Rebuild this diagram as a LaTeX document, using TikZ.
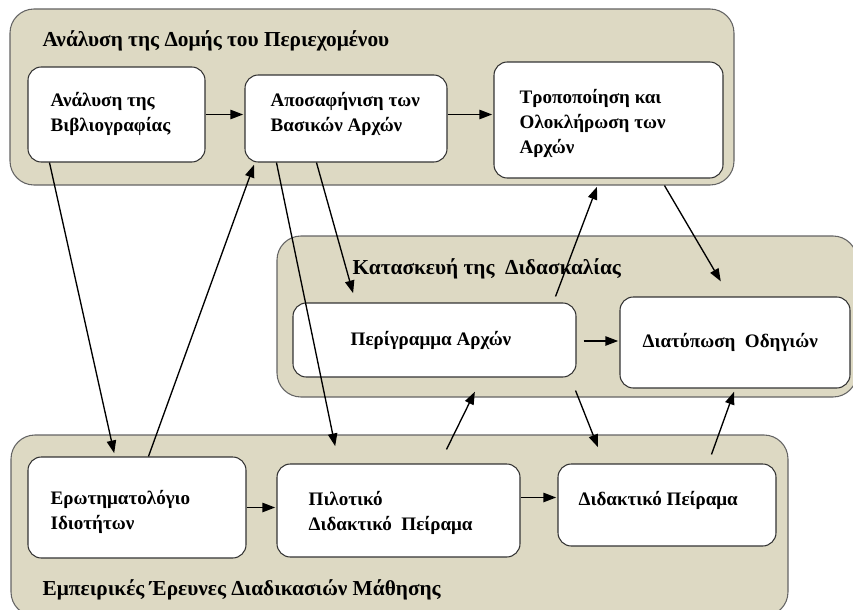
\documentclass[tikz,border=0pt]{standalone}
\usepackage{fontspec}
\setmainfont{Liberation Serif}
\usetikzlibrary{arrows.meta,calc,fit}
\definecolor{groupfill}{RGB}{221,217,195}
\definecolor{groupline}{RGB}{100,100,100}

\begin{document}
\begin{tikzpicture}[x=0.75pt,y=-0.75pt,->,>={Triangle[length=9.5pt,width=7pt]},shorten >=1pt,line width=1pt,
    grp/.style={draw=groupline,fill=groupfill,rounded corners=18pt,inner sep=0pt,line width=0.8pt},
    box/.style={draw=black!80,fill=white,rounded corners=10pt,inner sep=0pt,line width=0.8pt},
    txt/.style={anchor=base west,inner sep=0pt,align=left,font=\fontsize{16}{18.75}\selectfont\bfseries},
    boxtxt/.style={txt,font=\fontsize{14.3}{18.75}\selectfont\bfseries}]

            \clip (0,0) rectangle (853,610);

            % the three groups
            \node[grp, fit={(10,9) (734,185)}] (g1) {};
            \node[grp, fit={(277,236) (857,397)}] (g2) {};
            \node[grp, fit={(11,435) (788,616)}] (g3) {};

            \node[txt] (t1) at (42,47) {Ανάλυση της Δομής του Περιεχομένου};
            \node[txt] (t2) at (352,274) {Κατασκευή της \ Διδασκαλίας};
            \node[txt] (t3) at (42,595) {Εμπειρικές Έρευνες Διαδικασιών Μάθησης};

            % boxes
            \node[box, fit={(28,67) (205,162)}] (1) {};
            \node[box, fit={(245,75) (447,162)}] (2) {};
            \node[box, fit={(494,62) (723,178)}] (3) {};
            \node[box, fit={(293,303) (576,377)}] (4) {};
            \node[box, fit={(620,297) (850,388)}] (5) {};
            \node[box, fit={(28,457) (246,558)}] (6) {};
            \node[box, fit={(277,464) (520,557)}] (7) {};
            \node[box, fit={(558,464) (776,546)}] (8) {};

            % multi-line texts sit on their last baseline
            \node[boxtxt] (l1) at (50,132) {Ανάλυση της\\Βιβλιογραφίας};
            \node[boxtxt] (l2) at (270,132) {Αποσαφήνιση των\\Βασικών Αρχών};
            \node[boxtxt] (l3) at (519,153) {Τροποποίηση και\\Ολοκλήρωση των\\Αρχών};
            \node[boxtxt] (l4) at (350,345) {Περίγραμμα Αρχών};
            \node[boxtxt] (l5) at (642,347) {Διατύπωση \ Οδηγιών};
            \node[boxtxt] (l6) at (50,529) {Ερωτηματολόγιο\\Ιδιοτήτων};
            \node[boxtxt] (l7) at (308,530) {Πιλοτικό\\Διδακτικό \ Πείραμα};
            \node[boxtxt] (l8) at (578,505) {Διδακτικό Πείραμα};

            \path
                (1.east) edge (1.east -| 2.west)
                ($(2.east)+(0,-4)$) edge ($(2.east -| 3.west)+(0,-4)$)
                ($(4.east)+(7,1)$) edge ($(4.east -| 5.west)+(0,1)$)
                (6.east) edge (6.east -| 7.west)
                ($(7.east)+(0,-13)$) edge ($(7.east -| 8.west)+(0,-13)$)
                ($(1.south west)+(22,0)$) edge ($(6.north west)+(87,-2)$)
                ($(6.north west)+(121,0)$) edge ($(2.south west)+(10,1)$)
                ($(2.south west)+(32,0)$) edge ($(7.north west)+(59,-16)$)
                ($(2.south west)+(72,0)$) edge ($(4.north west)+(61,-8)$)
                ($(4.north east)+(-21,-6)$) edge ($(3.south west)+(104,7)$)
                ($(3.south west)+(171,7)$) edge ($(5.north west)+(102,-14)$)
                ($(7.north west)+(170,-14)$) edge ($(4.south west)+(183,13)$)
                ($(4.south east)+(-1,13)$) edge ($(8.north west)+(41,-15)$)
                ($(8.north west)+(154,-9)$) edge ($(5.south west)+(115,2)$)
            ;
        \end{tikzpicture}
\end{document}
